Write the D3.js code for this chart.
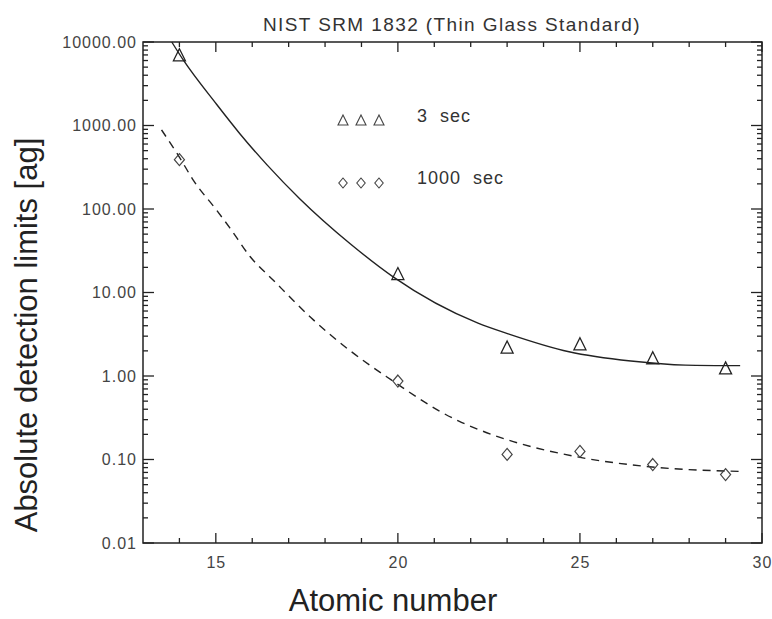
<!DOCTYPE html>
<html>
<head>
<meta charset="utf-8">
<script src="https://cdn.jsdelivr.net/npm/d3@7"></script>
<style>
    html, body { margin: 0; padding: 0; background: #fff; }
    svg { display: block; }
    text { font-family: "Liberation Sans", Arial, sans-serif; }
</style>
</head>
<body>
<div id="chart"></div>
<script>
// measured points
var atomicNumbers = [ 14, 20, 23, 25, 27, 29 ],
    limits3s = [ 6800, 16.3, 2.15, 2.35, 1.6, 1.21 ],
    limits1000s = [ 390, 0.87, 0.115, 0.125, 0.087, 0.066 ];

// fitted curves
var fit3sX = [ 13.79, 14.11, 15.02, 15.66, 16.4, 17.31, 18.69, 19.88, 22.2, 23.03, 24.7, 26.4, 27.9, 29.4 ],
    fit3sY = [ 10000, 6050, 1795, 798, 340, 132, 38.4, 15.3, 4.3, 3.2, 1.95, 1.51, 1.35, 1.33 ];

var fit1000sX = [ 13.51, 14.02, 14.38, 15.02, 15.39, 15.94, 16.58, 17.68, 18.6, 19.69, 21.66, 22.2, 22.94, 24.86, 26.77, 29.4 ],
    fit1000sY = [ 884, 404, 222, 97, 59, 27, 14, 4.7, 2.15, 0.98, 0.29, 0.23, 0.176, 0.109, 0.083, 0.072 ];

var xTicks = [ 15, 20, 25, 30 ],
    yTicks = [ 0.01, 0.1, 1, 10, 100, 1000, 10000 ];

var legendLabels = [ '3 sec', '1000 sec' ];

var title = 'NIST SRM 1832 (Thin Glass Standard)',
    xTitle = 'Atomic number',
    yTitle = 'Absolute detection limits [ag]';

var width = 772,
    height = 619,
    plotLeft = 143,
    plotRight = 762,
    plotTop = 42,
    plotBottom = 543,
    ink = '#222';

var svg = d3.select( '#chart' )
    .append( 'svg' )
    .attr( 'width', width )
    .attr( 'height', height );

var x = d3.scaleLinear().domain( [ 13, 30 ] ).range( [ plotLeft, plotRight ] ),
    y = d3.scaleLog().domain( [ 0.01, 10000 ] ).range( [ plotBottom, plotTop ] );

// minor ticks
var xMinor = d3.range( 14, 30 ).filter( d => xTicks.indexOf( d ) < 0 ),
    yMinor = [];
yTicks.slice( 0, -1 ).forEach( d => {
    for ( var k = 2; k < 10; k++ ) yMinor.push( d * k );
} );

// tick labels
svg.append( 'g' )
    .attr( 'transform', 'translate(0,' + plotBottom + ')' )
    .call( d3.axisBottom( x ).tickValues( xTicks ).tickSize( 0 ).tickPadding( 14 ).tickFormat( d3.format( 'd' ) ) )
    .call( g => g.select( '.domain' ).remove() )
    .selectAll( 'text' )
    .attr( 'fill', '#444' )
    .attr( 'font-size', 16 )
    .attr( 'letter-spacing', 1 );

svg.append( 'g' )
    .attr( 'transform', 'translate(' + plotLeft + ',0)' )
    .call( d3.axisLeft( y ).tickValues( yTicks ).tickSize( 0 ).tickPadding( 6 ).tickFormat( d3.format( '.2f' ) ) )
    .call( g => g.select( '.domain' ).remove() )
    .selectAll( 'text' )
    .attr( 'fill', '#444' )
    .attr( 'font-size', 16 )
    .attr( 'letter-spacing', 1 );

// inward ticks on all four sides
var tickG = svg.append( 'g' )
    .attr( 'stroke', ink )
    .attr( 'stroke-width', 1.3 );

[ [ xTicks, 10 ], [ xMinor, 5 ] ].forEach( ( t ) => {
    t[ 0 ].forEach( d => {
        tickG.append( 'line' ).attr( 'x1', x( d ) ).attr( 'x2', x( d ) ).attr( 'y1', plotBottom ).attr( 'y2', plotBottom - t[ 1 ] );
        tickG.append( 'line' ).attr( 'x1', x( d ) ).attr( 'x2', x( d ) ).attr( 'y1', plotTop ).attr( 'y2', plotTop + t[ 1 ] );
    } );
} );

[ [ yTicks, 11 ], [ yMinor, 5 ] ].forEach( ( t ) => {
    t[ 0 ].forEach( d => {
        tickG.append( 'line' ).attr( 'x1', plotLeft ).attr( 'x2', plotLeft + t[ 1 ] ).attr( 'y1', y( d ) ).attr( 'y2', y( d ) );
        tickG.append( 'line' ).attr( 'x1', plotRight ).attr( 'x2', plotRight - t[ 1 ] ).attr( 'y1', y( d ) ).attr( 'y2', y( d ) );
    } );
} );

svg.append( 'rect' )
    .attr( 'x', plotLeft )
    .attr( 'y', plotTop )
    .attr( 'width', plotRight - plotLeft )
    .attr( 'height', plotBottom - plotTop )
    .attr( 'fill', 'none' )
    .attr( 'stroke', ink )
    .attr( 'stroke-width', 1.5 );

// fitted curves
var line = d3.line()
    .x( d => x( d[ 0 ] ) )
    .y( d => y( d[ 1 ] ) )
    .curve( d3.curveMonotoneX );

svg.append( 'path' )
    .attr( 'd', line( d3.zip( fit3sX, fit3sY ) ) )
    .attr( 'fill', 'none' )
    .attr( 'stroke', ink )
    .attr( 'stroke-width', 1.4 );

svg.append( 'path' )
    .attr( 'd', line( d3.zip( fit1000sX, fit1000sY ) ) )
    .attr( 'fill', 'none' )
    .attr( 'stroke', ink )
    .attr( 'stroke-width', 1.4 )
    .attr( 'stroke-dasharray', '8,6' );

// markers
var triangle = s => 'M0,' + ( -s * 0.6 ) + 'L' + ( s / 2 ) + ',' + ( s * 0.4 ) + 'L' + ( -s / 2 ) + ',' + ( s * 0.4 ) + 'Z',
    diamond = s => 'M0,' + ( -s / 2 ) + 'L' + ( s * 0.42 ) + ',0L0,' + ( s / 2 ) + 'L' + ( -s * 0.42 ) + ',0Z';

svg.append( 'g' )
    .selectAll( 'path' )
    .data( d3.zip( atomicNumbers, limits3s ) )
    .join( 'path' )
    .attr( 'transform', d => 'translate(' + x( d[ 0 ] ) + ',' + y( d[ 1 ] ) + ')' )
    .attr( 'd', triangle( 12 ) )
    .attr( 'fill', 'none' )
    .attr( 'stroke', ink )
    .attr( 'stroke-width', 1.3 );

svg.append( 'g' )
    .selectAll( 'path' )
    .data( d3.zip( atomicNumbers, limits1000s ) )
    .join( 'path' )
    .attr( 'transform', d => 'translate(' + x( d[ 0 ] ) + ',' + y( d[ 1 ] ) + ')' )
    .attr( 'd', diamond( 12 ) )
    .attr( 'fill', 'none' )
    .attr( 'stroke', '#444' )
    .attr( 'stroke-width', 1.2 );

// legend
var legend = svg.append( 'g' );
legendLabels.forEach( ( label, i ) => {
    var ly = 121 + i * 62;
    [ 343, 361, 379 ].forEach( lx => {
        legend.append( 'path' )
            .attr( 'transform', 'translate(' + lx + ',' + ly + ')' )
            .attr( 'd', i ? diamond( 10 ) : triangle( 10 ) )
            .attr( 'fill', 'none' )
            .attr( 'stroke', '#444' )
            .attr( 'stroke-width', 1.1 );
    } );
    legend.append( 'text' )
        .attr( 'x', 417 )
        .attr( 'y', ly + 1 )
        .attr( 'fill', '#333' )
        .attr( 'font-size', 18 )
        .attr( 'letter-spacing', 1 )
        .attr( 'word-spacing', 6 )
        .text( label );
} );

// titles
svg.append( 'text' )
    .attr( 'x', 452 )
    .attr( 'y', 31 )
    .attr( 'text-anchor', 'middle' )
    .attr( 'fill', '#333' )
    .attr( 'font-size', 19 )
    .attr( 'letter-spacing', 1.4 )
    .text( title );

svg.append( 'text' )
    .attr( 'x', 393 )
    .attr( 'y', 611 )
    .attr( 'text-anchor', 'middle' )
    .attr( 'fill', ink )
    .attr( 'font-size', 31 )
    .text( xTitle );

svg.append( 'text' )
    .attr( 'transform', 'translate(37,335) rotate(-90)' )
    .attr( 'text-anchor', 'middle' )
    .attr( 'fill', ink )
    .attr( 'font-size', 31 )
    .text( yTitle );
</script>
</body>
</html>
